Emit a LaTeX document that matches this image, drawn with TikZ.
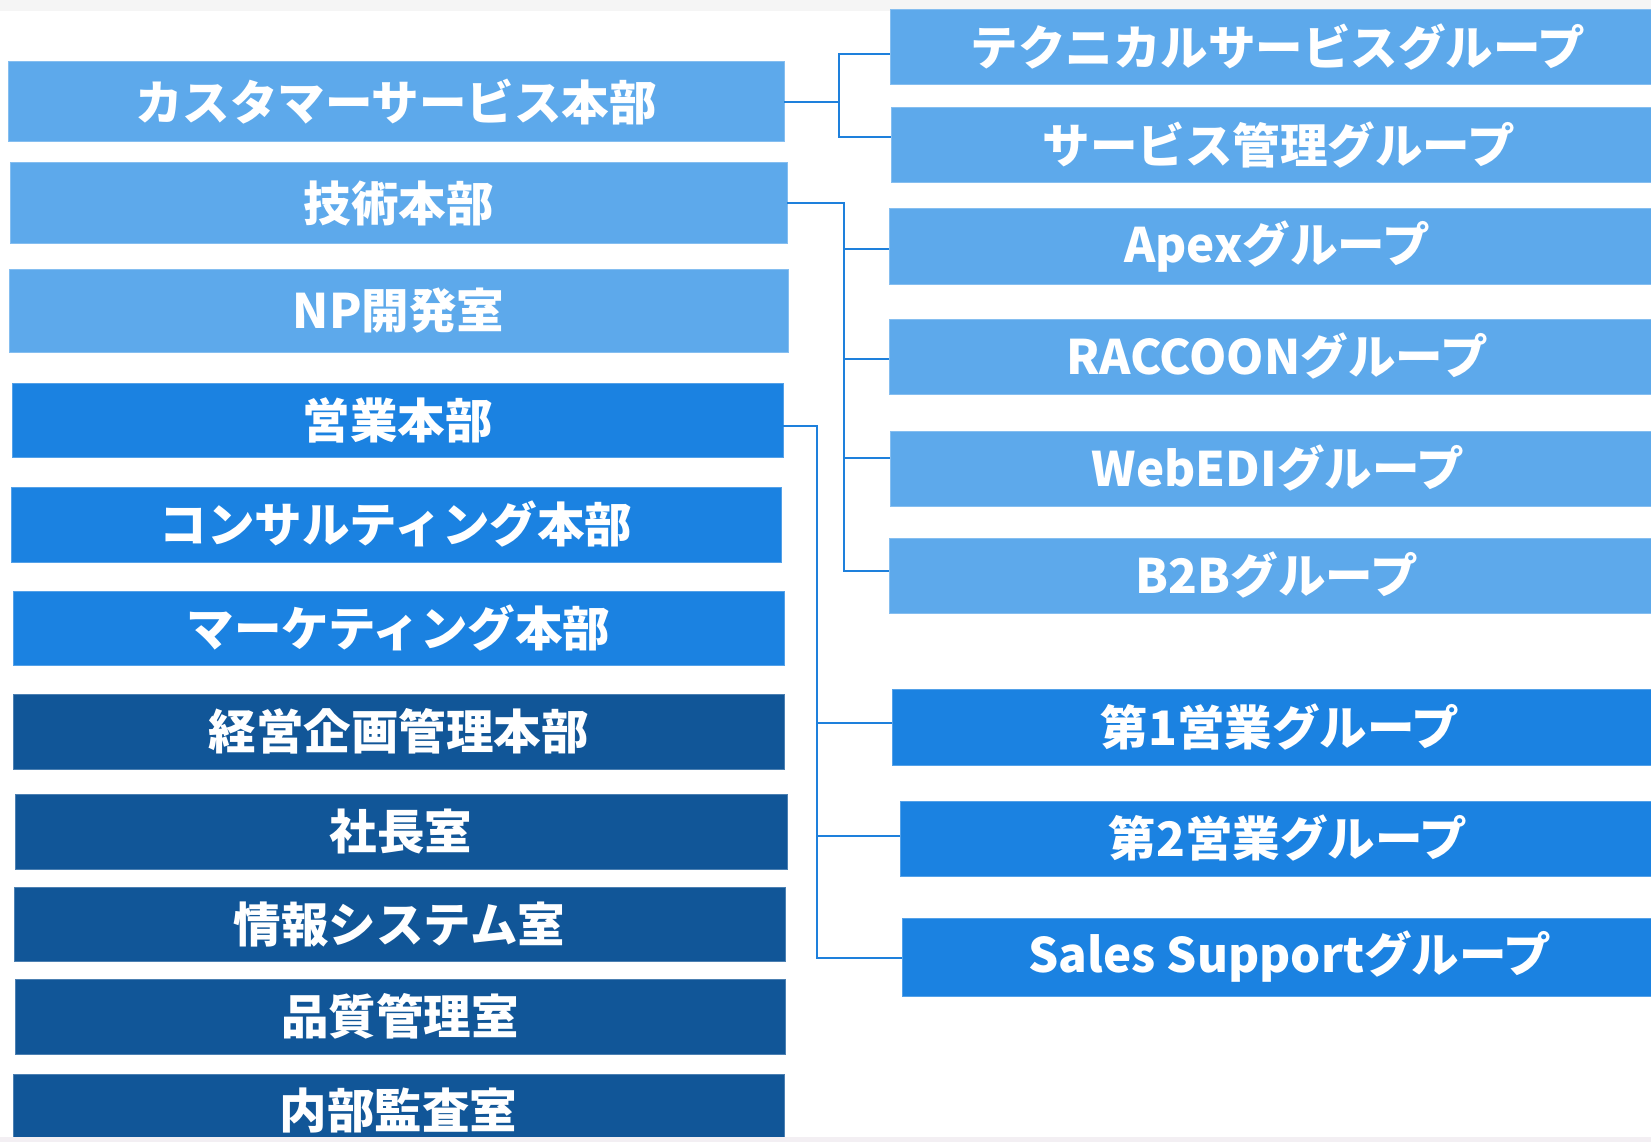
\documentclass[tikz,border=0pt]{standalone}
\usepackage{fontspec}
\setmainfont{Noto Sans CJK JP}
\definecolor{lb}{RGB}{93,169,235}
\definecolor{mb}{RGB}{27,130,225}
\definecolor{db}{RGB}{17,86,152}
\definecolor{ln}{RGB}{30,128,220}
\definecolor{strip}{RGB}{245,245,245}
\definecolor{bstrip}{RGB}{243,239,243}
\tikzset{
  box/.style={rectangle, anchor=north west, inner sep=0pt, outer sep=0pt, text=white,
    font=\bfseries\fontsize{47.5}{52}\selectfont, line width=1pt},
  lbox/.style={box, fill=lb, draw=lb!75!white},
  mbox/.style={box, fill=mb, draw=mb!75!white},
  dbox/.style={box, fill=db, draw=db!75!white},
  rw/.style={minimum width=776pt},
  conn/.style={draw=ln, line width=2pt}
}
\begin{document}
\begin{tikzpicture}[x=1pt, y=-1pt]
\useasboundingbox (0,0) rectangle (1651,1142);
\clip (0,0) rectangle (1651,1142);
\fill[white] (0,0) rectangle (1651,1142);
\fill[strip] (0,0) rectangle (1651,11);

% left column
\node[lbox, minimum width=776pt, minimum height=80pt] (cs) at (8,62) {カスタマーサービス本部};
\node[lbox, minimum width=777pt, minimum height=80pt] (tech) at (10,163) {技術本部};
\node[lbox, minimum width=779pt, minimum height=83pt] (np) at (9,269) {NP開発室};
\node[mbox, minimum width=771pt, minimum height=74pt] (eigyo) at (12,383) {営業本部};
\node[mbox, minimum width=770pt, minimum height=75pt] (cons) at (11,487) {コンサルティング本部};
\node[mbox, minimum width=771pt, minimum height=74pt] (mkt) at (13,591) {マーケティング本部};
\node[dbox, minimum width=771pt, minimum height=75pt] (keiei) at (13,694) {経営企画管理本部};
\node[dbox, minimum width=772pt, minimum height=75pt] (shacho) at (15,794) {社長室};
\node[dbox, minimum width=771pt, minimum height=74pt] (joho) at (14,887) {情報システム室};
\node[dbox, minimum width=770pt, minimum height=75pt] (hin) at (15,979) {品質管理室};
\node[dbox, minimum width=771pt, minimum height=72pt] (naibu) at (13,1074) {内部監査室};

% right column
\node[lbox, rw, minimum height=75pt] (tsg) at (890,10) {テクニカルサービスグループ};
\node[lbox, rw, minimum height=75pt] (smg) at (891,108) {サービス管理グループ};
\node[lbox, rw, minimum height=75pt] (apex) at (889,209) {Apexグループ};
\node[lbox, rw, minimum height=75pt] (racc) at (889,319) {RACCOONグループ};
\node[lbox, rw, minimum height=75pt] (web) at (890,431) {WebEDIグループ};
\node[lbox, rw, minimum height=75pt] (b2b) at (889,538) {B2Bグループ};
\node[mbox, rw, minimum height=76pt] (s1) at (892,689) {第1営業グループ};
\node[mbox, rw, minimum height=75pt] (s2) at (900,801) {第2営業グループ};
\node[mbox, rw, minimum height=78pt] (ss) at (902,918) {Sales Supportグループ};

% bus coordinates
\coordinate (b1) at (839,0);
\coordinate (b2) at (844,0);
\coordinate (b3) at (817,0);

% customer service
\draw[conn] (cs.east) -- (cs.east -| b1);
\draw[conn] ([yshift=-6.5pt]tsg.west) -- ([yshift=-6.5pt]tsg.west -| b1)
  -- ([yshift=8.5pt]smg.west -| b1) -- ([yshift=8.5pt]smg.west);

% technology
\draw[conn] (tech.east) -- (tech.east -| b2) -- ([yshift=4.5pt]b2b.west -| b2) -- ([yshift=4.5pt]b2b.west);
\draw[conn] ([yshift=-2.5pt]apex.west) -- ([yshift=-2.5pt]apex.west -| b2);
\draw[conn] ([yshift=-2.5pt]racc.west) -- ([yshift=-2.5pt]racc.west -| b2);
\draw[conn] ([yshift=10.5pt]web.west) -- ([yshift=10.5pt]web.west -| b2);

% sales
\draw[conn] ([yshift=-6pt]eigyo.east) -- ([yshift=-6pt]eigyo.east -| b3)
  -- ([yshift=-1pt]ss.west -| b3) -- ([yshift=-1pt]ss.west);
\draw[conn] ([yshift=4pt]s1.west) -- ([yshift=4pt]s1.west -| b3);
\draw[conn] ([yshift=2.5pt]s2.west) -- ([yshift=2.5pt]s2.west -| b3);

\fill[bstrip] (0,1137) rectangle (1651,1142);
\end{tikzpicture}
\end{document}
